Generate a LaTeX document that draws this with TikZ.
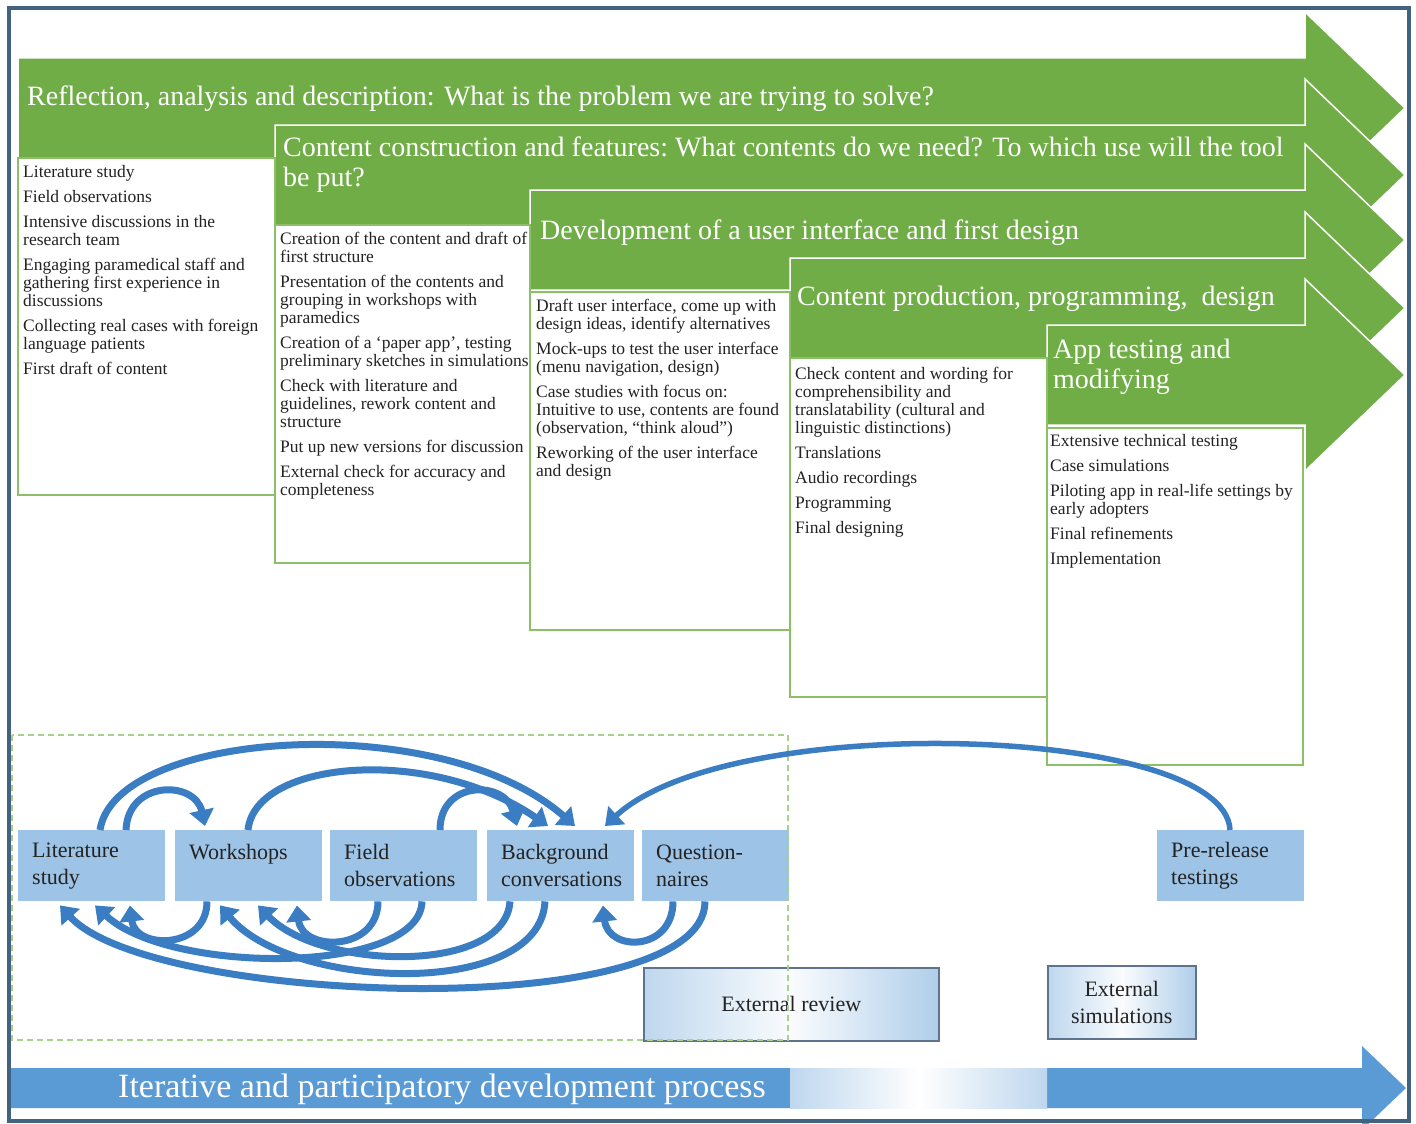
\documentclass[tikz,border=0pt]{standalone}
\usepackage{fontspec}
\setmainfont{Liberation Serif}
\usetikzlibrary{arrows.meta,calc}

\definecolor{stepgreen}{RGB}{112,173,71}
\definecolor{boxgreen}{RGB}{140,192,104}
\definecolor{toolblue}{RGB}{157,195,230}
\definecolor{loopblue}{RGB}{58,125,194}
\definecolor{procblue}{RGB}{91,155,213}
\definecolor{paleblue}{RGB}{190,215,238}
\definecolor{framecol}{RGB}{66,99,127}
\definecolor{inktext}{RGB}{35,35,35}
\definecolor{dashgreen}{RGB}{169,209,142}
\definecolor{extedge}{RGB}{95,115,140}

% left-aligned block of lines whose baseline is the first line
\newcommand\stacklines[1]{\begin{tabular}[t]{@{}l@{}}#1\end{tabular}}

\tikzset{
  steparrow/.style={fill=stepgreen, draw=white, line width=1.5pt, line join=miter},
  stepbox/.style={draw=boxgreen, line width=2pt, fill=white},
  stephead/.style={text=white, font=\fontsize{28}{30}\selectfont, inner sep=0pt, anchor=base west},
  steplist/.style={text=inktext, font=\fontsize{17.5}{18}\selectfont, inner sep=0pt, anchor=base west},
  toolbox/.style={fill=toolblue, minimum width=147pt, minimum height=71pt, anchor=north west,
    text width=119pt, inner xsep=14pt, inner ysep=0pt, align=left,
    font=\fontsize{22}{27}\selectfont, text=inktext},
  extbox/.style={draw=extedge, line width=1.5pt, left color=paleblue, right color=paleblue!85!procblue,
    middle color=white!92!paleblue, anchor=north west, align=center,
    font=\fontsize{22}{27}\selectfont, text=inktext},
  loop/.style={draw=loopblue, line width=7pt, -{Triangle[width=24pt,length=16pt]}},
  thinloop/.style={loop, line width=5.5pt},
}

\begin{document}
\begin{tikzpicture}[x=1pt, y=-1pt]
\useasboundingbox (0,0) rectangle (1416,1124);
\clip (0,0) rectangle (1416,1124);
\fill[white] (0,0) rectangle (1416,1124);

% staggered phase arrows
\foreach \xl/\yt in {18/58, 275/125, 530/190, 790/258, 1047/325}
  \draw[steparrow] (\xl,\yt) -- (1305,\yt) -- (1305,\yt-46) -- (1405,\yt+50)
    -- (1305,\yt+146) -- (1305,\yt+100) -- (\xl,\yt+100) -- cycle;

% activity boxes under each phase
\foreach \xl/\yt/\xr/\yb in {18/158/275/495, 275/225/530/563, 530/292/790/630,
                             790/358/1047/697, 1047/428/1303/765}
  \draw[stepbox] (\xl,\yt) rectangle (\xr,\yb);

% phase titles
\node[stephead] (h1) at (27,105) {Reflection, analysis and description: What is the problem we are trying to solve?};
\node[stephead] (h2) at (283,156) {\stacklines{Content construction and features:\ What contents do we need? To which use will the tool\\be put?}};
\node[stephead] (h3) at (540,239) {Development of a user interface and first design};
\node[stephead] (h4) at (797,305) {Content production, programming,\ \ design};
\node[stephead] (h5) at (1053,358) {\stacklines{App testing and\\modifying}};

% activities
\node[steplist] (l1) at (23,177) {\stacklines{Literature study\\[7pt]Field observations\\[7pt]Intensive discussions in the\\research team\\[7pt]Engaging paramedical staff and\\gathering first experience in\\discussions\\[7pt]Collecting real cases with foreign\\language patients\\[7pt]First draft of content}};
\node[steplist] (l2) at (280,244) {\stacklines{Creation of the content and draft of\\first structure\\[7pt]Presentation of the contents and\\grouping in workshops with\\paramedics\\[7pt]Creation of a `paper app',\ testing\\preliminary sketches in simulations\\[7pt]Check with literature and\\guidelines, rework content and\\structure\\[7pt]Put up new versions for discussion\\[7pt]External check for accuracy and\\completeness}};
\node[steplist] (l3) at (536,311) {\stacklines{Draft user interface, come up with\\design ideas, identify alternatives\\[7pt]Mock-ups to test the user interface\\(menu navigation, design)\\[7pt]Case studies with focus on:\\Intuitive to use, contents are found\\(observation, ``think aloud'')\\[7pt]Reworking of the user interface\\and design}};
\node[steplist] (l4) at (795,379) {\stacklines{Check content and wording\ for\\comprehensibility and\\translatability (cultural and\\linguistic distinctions)\\[7pt]Translations\\[7pt]Audio recordings\\[7pt]Programming\\[7pt]Final designing}};
\node[steplist] (l5) at (1050,446) {\stacklines{Extensive technical testing\\[7pt]Case simulations\\[7pt]Piloting app in real-life settings by\\early adopters\\[7pt]Final refinements\\[7pt]Implementation}};

% process arrow along the bottom
\fill[procblue] (10,1068) -- (1362,1068) -- (1362,1046) -- (1406,1088) -- (1362,1130)
  -- (1362,1108) -- (10,1108) -- cycle;
\fill[left color=paleblue, right color=paleblue, middle color=white] (790,1068) rectangle (1047,1108);
\node[text=white, font=\fontsize{34}{36}\selectfont, inner sep=0pt, anchor=base west] (proc) at (118,1097)
  {Iterative and participatory development process};

% external steps
\node[extbox, minimum width=295pt, minimum height=73pt] (er) at (643,967) {External review};
\node[extbox, minimum width=148pt, minimum height=73pt] (es) at (1047,965) {External\\simulations};

% participatory methods
\node[toolbox] (lit) at (18,830) {Literature\\study};
\node[toolbox] (ws) at (175,830) {Workshops\\\mbox{}};
\node[toolbox] (fo) at (330,830) {Field\\observations};
\node[toolbox] (bc) at (487,830) {Background\\conversations};
\node[toolbox] (qn) at (642,830) {Question-\\naires};
\node[toolbox] (pr) at (1157,830) {Pre-release\\testings};

\draw[dashgreen, line width=1.5pt, dash pattern=on 6pt off 4pt] (12,735) rectangle (788,1040);

% feedback loops above the boxes
\draw[loop] ($(lit.north west)+(82,0)$) .. controls (115,730) and (440,708) .. ($(bc.north west)+(88,-4)$);
\draw[loop] ($(lit.north west)+(108,0)$) .. controls (128,780) and (195,780) .. ($(ws.north west)+(30,-4)$);
\draw[loop] ($(ws.north west)+(73,0)$) .. controls (255,760) and (430,745) .. ($(bc.north west)+(61,-4)$);
\draw[loop] ($(fo.north west)+(110,0)$) .. controls (440,780) and (505,780) .. ($(bc.north west)+(30,-4)$);
\draw[thinloop] ($(pr.north west)+(73,0)$) .. controls (1225,725) and (730,710) .. ($(bc.north west)+(118,-4)$);

% feedback loops below the boxes
\draw[loop] ($(ws.south west)+(32,0)$) .. controls (207,950) and (135,950) .. ($(lit.south west)+(112,4)$);
\draw[loop] ($(fo.south west)+(48,0)$) .. controls (378,952) and (302,952) .. ($(ws.south west)+(122,4)$);
\draw[loop] ($(qn.south west)+(31,0)$) .. controls (673,952) and (608,952) .. ($(bc.south west)+(116,4)$);
\draw[loop] ($(qn.south west)+(63,0)$) .. controls (705,1025) and (150,1005) .. ($(lit.south west)+(42,4)$);
\draw[loop] ($(fo.south west)+(92,0)$) .. controls (420,975) and (170,975) .. ($(lit.south west)+(77,4)$);
\draw[loop] ($(bc.south west)+(58,0)$) .. controls (540,1000) and (290,990) .. ($(ws.south west)+(45,4)$);
\draw[loop] ($(bc.south west)+(23,0)$) .. controls (505,975) and (320,970) .. ($(ws.south west)+(83,4)$);

% outer frame
\draw[framecol, line width=4.5pt] (9,8) rectangle (1409,1121);
\end{tikzpicture}
\end{document}
